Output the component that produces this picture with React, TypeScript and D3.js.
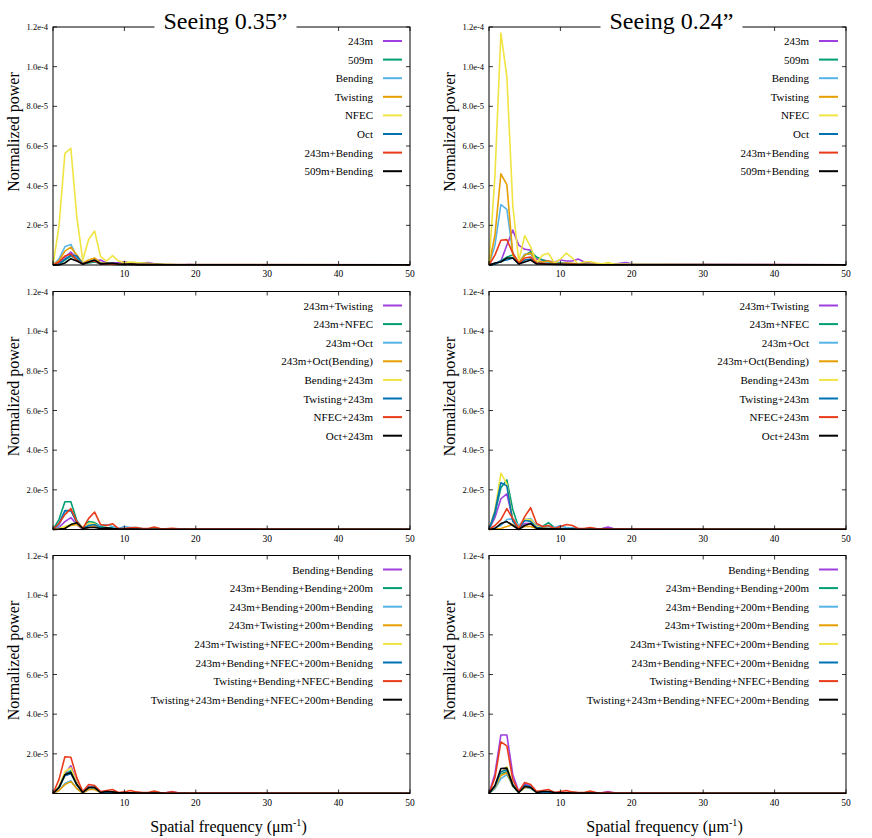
import React from 'react';
import * as d3 from 'd3';

// x samples (spatial frequency), step 5/6, with a last point at the axis end
const freq = [...d3.range(25).map(i => (i * 5) / 6), 50];

const xTicks = [0, 10, 20, 30, 40, 50];
const xTickLabels = ['', '10', '20', '30', '40', '50'];
const yTicks = [0, 2, 4, 6, 8, 10, 12];
const yTickLabels = ['', '2.0e-5', '4.0e-5', '6.0e-5', '8.0e-5', '1.0e-4', '1.2e-4'];

const colors = ['#9f3fe0', '#009e73', '#56b4e9', '#e69f00', '#f0e442', '#0072b2', '#ea3a1a', '#000000'];
const titles = ['Seeing 0.35\u201D', 'Seeing 0.24\u201D'];

const names1 = ['243m', '509m', 'Bending', 'Twisting', 'NFEC', 'Oct', '243m+Bending', '509m+Bending'];
const names2 = ['243m+Twisting', '243m+NFEC', '243m+Oct', '243m+Oct(Bending)', 'Bending+243m', 'Twisting+243m', 'NFEC+243m', 'Oct+243m'];
const names3 = [
    'Bending+Bending',
    '243m+Bending+Bending+200m',
    '243m+Bending+200m+Bending',
    '243m+Twisting+200m+Bending',
    '243m+Twisting+NFEC+200m+Bending',
    '243m+Bending+NFEC+200m+Benidng',
    'Twisting+Bending+NFEC+Bending',
    'Twisting+243m+Bending+NFEC+200m+Bending',
];

// values in units of 1e-5
// row 1, seeing 0.35"
const a243m = [0, 0.1, 0.4, 0.65, 0.35, 0.05, 0.15, 0.2, 0.25, 0.1, 0.08, 0.12, 0.17, 0.08, 0.05, 0.1, 0.12, 0.06, 0.04, 0.03, 0.03, 0.02, 0.02, 0.03, 0.02, 0.01];
const a509m = [0, 0.05, 0.25, 0.45, 0.3, 0.05, 0.1, 0.15, 0.08, 0.05, 0.04, 0.03, 0.03, 0.03, 0.02, 0.02, 0.02, 0.02, 0.01, 0.01, 0.01, 0.01, 0.01, 0.01, 0.01, 0.01];
const aBending = [0, 0.3, 0.92, 1.04, 0.4, 0.08, 0.2, 0.25, 0.1, 0.08, 0.06, 0.05, 0.05, 0.04, 0.03, 0.03, 0.02, 0.02, 0.02, 0.02, 0.01, 0.01, 0.01, 0.01, 0.01, 0.01];
const aTwisting = [0, 0.2, 0.7, 0.9, 0.5, 0.1, 0.25, 0.35, 0.12, 0.08, 0.05, 0.04, 0.04, 0.03, 0.03, 0.02, 0.02, 0.02, 0.02, 0.02, 0.01, 0.01, 0.01, 0.01, 0.01, 0.01];
const aNFEC = [0, 1.93, 5.63, 5.88, 2.43, 0.25, 1.3, 1.71, 0.42, 0.2, 0.47, 0.2, 0.12, 0.15, 0.12, 0.1, 0.08, 0.05, 0.04, 0.03, 0.03, 0.02, 0.02, 0.02, 0.02, 0.01];
const aOct = [0, 0.05, 0.3, 0.5, 0.45, 0.05, 0.15, 0.2, 0.08, 0.05, 0.04, 0.03, 0.03, 0.02, 0.02, 0.02, 0.02, 0.01, 0.01, 0.01, 0.01, 0.01, 0.01, 0.01, 0.01, 0.01];
const a243mBending = [0, 0.15, 0.45, 0.55, 0.25, 0.05, 0.15, 0.2, 0.05, 0.05, 0.04, 0.03, 0.03, 0.03, 0.02, 0.02, 0.02, 0.02, 0.01, 0.01, 0.01, 0.01, 0.01, 0.01, 0.01, 0.01];
const a509mBending = [0, 0, 0.1, 0.32, 0.2, 0.05, 0.15, 0.25, 0.05, 0.08, 0.1, 0.05, 0.03, 0.05, 0.03, 0.02, 0.02, 0.02, 0.02, 0.01, 0.01, 0.01, 0.01, 0.01, 0.01, 0.01];

// row 1, seeing 0.24"
const b243m = [0, 0.05, 0.2, 1.0, 1.76, 1.0, 0.79, 0.75, 0.3, 0.25, 0.2, 0.15, 0.25, 0.2, 0.2, 0.3, 0.15, 0.1, 0.05, 0.05, 0.05, 0.05, 0.08, 0.12, 0.06, 0.01];
const b509m = [0, 0.05, 0.2, 0.4, 0.5, 0.1, 0.5, 0.67, 0.4, 0.25, 0.15, 0.1, 0.1, 0.08, 0.06, 0.05, 0.05, 0.04, 0.04, 0.03, 0.03, 0.02, 0.02, 0.02, 0.02, 0.01];
const bBending = [0, 1.0, 3.05, 2.8, 0.6, 0.1, 0.55, 0.55, 0.15, 0.1, 0.1, 0.06, 0.05, 0.05, 0.04, 0.03, 0.03, 0.03, 0.02, 0.02, 0.02, 0.02, 0.01, 0.01, 0.01, 0.01];
const bTwisting = [0, 1.5, 4.6, 4.05, 0.5, 0.1, 0.5, 0.6, 0.2, 0.15, 0.2, 0.08, 0.06, 0.1, 0.08, 0.05, 0.05, 0.04, 0.03, 0.03, 0.02, 0.02, 0.02, 0.02, 0.01, 0.01];
const bNFEC = [0, 4.5, 11.7, 9.5, 3.0, 0.2, 1.48, 0.92, 0.1, 0.5, 0.59, 0.1, 0.3, 0.6, 0.35, 0.05, 0.15, 0.18, 0.1, 0.05, 0.12, 0.05, 0.04, 0.03, 0.03, 0.01];
const bOct = [0, 0.05, 0.2, 0.25, 0.35, 0.05, 0.25, 0.3, 0.1, 0.06, 0.05, 0.04, 0.03, 0.03, 0.02, 0.02, 0.02, 0.02, 0.01, 0.01, 0.01, 0.01, 0.01, 0.01, 0.01, 0.01];
const b243mBending = [0, 0.5, 1.25, 1.28, 0.6, 0.1, 0.35, 0.4, 0.1, 0.08, 0.05, 0.04, 0.04, 0.03, 0.03, 0.02, 0.02, 0.02, 0.02, 0.01, 0.01, 0.01, 0.01, 0.01, 0.01, 0.01];
const b509mBending = [0, 0.1, 0.15, 0.35, 0.35, 0.05, 0.15, 0.25, 0.05, 0.05, 0.04, 0.03, 0.03, 0.02, 0.02, 0.02, 0.02, 0.01, 0.01, 0.01, 0.01, 0.01, 0.01, 0.01, 0.01, 0.01];

// row 2, seeing 0.35"
const c243mTwisting = [0, 0.1, 0.4, 0.6, 0.25, 0, 0.1, 0.15, 0.05, 0.04, 0.03, 0.03, 0.02, 0.02, 0.02, 0.02, 0.01, 0.01, 0.01, 0.01, 0.01, 0.01, 0.01, 0.01, 0.01, 0.01];
const c243mNFEC = [0, 0.5, 1.4, 1.4, 0.45, 0.05, 0.4, 0.35, 0.15, 0.1, 0.08, 0.05, 0.04, 0.04, 0.03, 0.03, 0.02, 0.02, 0.02, 0.02, 0.01, 0.01, 0.01, 0.01, 0.01, 0.01];
const c243mOct = [0, 0.2, 0.9, 0.95, 0.4, 0.1, 0.3, 0.25, 0.2, 0.25, 0.15, 0.05, 0.15, 0.1, 0.1, 0.05, 0.04, 0.03, 0.03, 0.02, 0.02, 0.02, 0.01, 0.01, 0.01, 0.01];
const c243mOctBending = [0, 0.02, 0.1, 0.2, 0.25, 0.05, 0.1, 0.2, 0.05, 0.04, 0.03, 0.02, 0.02, 0.02, 0.01, 0.01, 0.01, 0.01, 0.01, 0.01, 0.01, 0.01, 0.01, 0.01, 0.01, 0.01];
const cBending243m = [0, 0.05, 0.15, 0.25, 0.35, 0.1, 0.3, 0.3, 0.05, 0.04, 0.03, 0.03, 0.02, 0.02, 0.02, 0.01, 0.01, 0.01, 0.01, 0.01, 0.01, 0.01, 0.01, 0.01, 0.01, 0.01];
const cTwisting243m = [0, 0.3, 0.95, 0.96, 0.35, 0.05, 0.2, 0.25, 0.08, 0.05, 0.04, 0.03, 0.03, 0.02, 0.02, 0.02, 0.01, 0.01, 0.01, 0.01, 0.01, 0.01, 0.01, 0.01, 0.01, 0.01];
const cNFEC243m = [0, 0.3, 0.75, 1.05, 0.4, 0.05, 0.56, 0.88, 0.25, 0.2, 0.29, 0.05, 0.05, 0.08, 0.1, 0.05, 0.05, 0.12, 0.05, 0.03, 0.06, 0.03, 0.02, 0.02, 0.02, 0.01];
const cOct243m = [0, 0.02, 0.05, 0.25, 0.34, 0.05, 0.1, 0.1, 0.05, 0.08, 0.05, 0.03, 0.02, 0.02, 0.02, 0.01, 0.01, 0.01, 0.01, 0.01, 0.01, 0.01, 0.01, 0.01, 0.01, 0.01];

// row 2, seeing 0.24"
const d243mTwisting = [0, 0.6, 1.55, 1.8, 0.5, 0.05, 0.3, 0.3, 0.1, 0.08, 0.05, 0.05, 0.05, 0.04, 0.04, 0.04, 0.04, 0.05, 0.04, 0.05, 0.12, 0.04, 0.03, 0.02, 0.02, 0.01];
const d243mNFEC = [0, 0.8, 2.1, 2.5, 1.0, 0.1, 0.5, 0.45, 0.2, 0.15, 0.35, 0.1, 0.05, 0.05, 0.04, 0.03, 0.03, 0.03, 0.02, 0.02, 0.02, 0.02, 0.01, 0.01, 0.01, 0.01];
const d243mOct = [0, 0.1, 0.2, 0.5, 0.55, 0.2, 0.5, 0.55, 0.2, 0.15, 0.15, 0.1, 0.2, 0.1, 0.08, 0.05, 0.04, 0.04, 0.03, 0.03, 0.02, 0.02, 0.02, 0.02, 0.01, 0.01];
const d243mOctBending = [0, 0.02, 0.05, 0.15, 0.25, 0.05, 0.15, 0.15, 0.05, 0.03, 0.02, 0.02, 0.02, 0.01, 0.01, 0.01, 0.01, 0.01, 0.01, 0.01, 0.01, 0.01, 0.01, 0.01, 0.01, 0.01];
const dBending243m = [0, 1.0, 2.84, 2.3, 0.5, 0.1, 0.5, 0.5, 0.15, 0.08, 0.06, 0.05, 0.04, 0.04, 0.03, 0.03, 0.02, 0.02, 0.02, 0.02, 0.01, 0.01, 0.01, 0.01, 0.01, 0.01];
const dTwisting243m = [0, 0.9, 2.36, 2.2, 0.4, 0.05, 0.45, 0.4, 0.1, 0.06, 0.05, 0.04, 0.04, 0.03, 0.03, 0.02, 0.02, 0.02, 0.02, 0.01, 0.01, 0.01, 0.01, 0.01, 0.01, 0.01];
const dNFEC243m = [0, 0.2, 0.5, 1.05, 0.55, 0.05, 0.65, 1.1, 0.3, 0.15, 0.2, 0.05, 0.15, 0.25, 0.2, 0.05, 0.05, 0.1, 0.05, 0.03, 0.03, 0.02, 0.04, 0.02, 0.02, 0.01];
const dOct243m = [0, 0.05, 0.3, 0.4, 0.2, 0, 0.2, 0.3, 0.05, 0.05, 0.04, 0.03, 0.02, 0.02, 0.02, 0.01, 0.01, 0.01, 0.01, 0.01, 0.01, 0.01, 0.01, 0.01, 0.01, 0.01];

// row 3, seeing 0.35"
const eBB = [0, 0.3, 1.0, 1.4, 0.6, 0.05, 0.35, 0.35, 0.05, 0.08, 0.06, 0.04, 0.04, 0.03, 0.03, 0.03, 0.03, 0.04, 0.03, 0.04, 0.1, 0.03, 0.02, 0.02, 0.02, 0.01];
const e243BB200 = [0, 0.3, 0.95, 1.15, 0.45, 0.05, 0.3, 0.3, 0.05, 0.06, 0.05, 0.04, 0.03, 0.03, 0.02, 0.02, 0.02, 0.02, 0.02, 0.01, 0.01, 0.01, 0.01, 0.01, 0.01, 0.01];
const e243B200B = [0, 0.15, 0.5, 0.65, 0.25, 0.02, 0.2, 0.25, 0.05, 0.04, 0.03, 0.03, 0.02, 0.02, 0.02, 0.01, 0.01, 0.01, 0.01, 0.01, 0.01, 0.01, 0.01, 0.01, 0.01, 0.01];
const e243T200B = [0, 0.15, 0.45, 0.6, 0.25, 0.02, 0.2, 0.2, 0.05, 0.04, 0.03, 0.03, 0.02, 0.02, 0.02, 0.01, 0.01, 0.01, 0.01, 0.01, 0.01, 0.01, 0.01, 0.01, 0.01, 0.01];
const e243TN200B = [0, 0.35, 1.1, 1.3, 0.55, 0.05, 0.3, 0.3, 0.05, 0.06, 0.05, 0.04, 0.03, 0.03, 0.02, 0.02, 0.02, 0.02, 0.02, 0.01, 0.01, 0.01, 0.01, 0.01, 0.01, 0.01];
const e243BN200B = [0, 0.3, 0.9, 1.0, 0.45, 0.05, 0.3, 0.3, 0.05, 0.06, 0.05, 0.04, 0.03, 0.03, 0.02, 0.02, 0.02, 0.02, 0.02, 0.01, 0.01, 0.01, 0.01, 0.01, 0.01, 0.01];
const eTBNB = [0, 0.7, 1.85, 1.83, 0.8, 0.1, 0.45, 0.4, 0.1, 0.15, 0.2, 0.05, 0.08, 0.15, 0.08, 0.05, 0.05, 0.12, 0.05, 0.03, 0.08, 0.03, 0.02, 0.02, 0.02, 0.01];
const eT243BN200B = [0, 0.3, 0.95, 1.06, 0.45, 0.05, 0.3, 0.3, 0.05, 0.1, 0.08, 0.04, 0.03, 0.03, 0.02, 0.02, 0.02, 0.02, 0.02, 0.01, 0.01, 0.01, 0.01, 0.01, 0.01, 0.01];

// row 3, seeing 0.24"
const fBB = [0, 1.0, 2.95, 2.95, 0.95, 0.1, 0.5, 0.35, 0.1, 0.1, 0.08, 0.05, 0.05, 0.05, 0.05, 0.04, 0.04, 0.04, 0.04, 0.04, 0.1, 0.04, 0.03, 0.02, 0.02, 0.01];
const f243BB200 = [0, 0.35, 1.0, 1.1, 0.35, 0.05, 0.35, 0.3, 0.05, 0.06, 0.05, 0.04, 0.03, 0.03, 0.02, 0.02, 0.02, 0.02, 0.02, 0.01, 0.01, 0.01, 0.01, 0.01, 0.01, 0.01];
const f243B200B = [0, 0.25, 0.75, 0.95, 0.4, 0.05, 0.3, 0.25, 0.05, 0.05, 0.04, 0.03, 0.03, 0.02, 0.02, 0.02, 0.01, 0.01, 0.01, 0.01, 0.01, 0.01, 0.01, 0.01, 0.01, 0.01];
const f243T200B = [0, 0.3, 0.9, 1.05, 0.4, 0.05, 0.3, 0.3, 0.05, 0.05, 0.04, 0.03, 0.03, 0.02, 0.02, 0.02, 0.01, 0.01, 0.01, 0.01, 0.01, 0.01, 0.01, 0.01, 0.01, 0.01];
const f243TN200B = [0, 0.35, 1.05, 1.35, 0.5, 0.05, 0.35, 0.3, 0.05, 0.06, 0.05, 0.04, 0.03, 0.03, 0.02, 0.02, 0.02, 0.02, 0.02, 0.01, 0.01, 0.01, 0.01, 0.01, 0.01, 0.01];
const f243BN200B = [0, 0.35, 1.1, 1.2, 0.45, 0.05, 0.4, 0.35, 0.05, 0.06, 0.05, 0.04, 0.03, 0.03, 0.02, 0.02, 0.02, 0.02, 0.02, 0.01, 0.01, 0.01, 0.01, 0.01, 0.01, 0.01];
const fTBNB = [0, 0.8, 2.6, 2.4, 0.7, 0.1, 0.56, 0.45, 0.1, 0.15, 0.2, 0.05, 0.1, 0.15, 0.08, 0.05, 0.05, 0.12, 0.05, 0.03, 0.06, 0.03, 0.02, 0.02, 0.02, 0.01];
const fT243BN200B = [0, 0.4, 1.26, 1.28, 0.4, 0.05, 0.35, 0.3, 0.05, 0.1, 0.1, 0.05, 0.03, 0.03, 0.02, 0.02, 0.02, 0.02, 0.02, 0.01, 0.01, 0.01, 0.01, 0.01, 0.01, 0.01];

const panels = [
    { row: 0, col: 0, names: names1, series: [a243m, a509m, aBending, aTwisting, aNFEC, aOct, a243mBending, a509mBending] },
    { row: 0, col: 1, names: names1, series: [b243m, b509m, bBending, bTwisting, bNFEC, bOct, b243mBending, b509mBending] },
    { row: 1, col: 0, names: names2, series: [c243mTwisting, c243mNFEC, c243mOct, c243mOctBending, cBending243m, cTwisting243m, cNFEC243m, cOct243m] },
    { row: 1, col: 1, names: names2, series: [d243mTwisting, d243mNFEC, d243mOct, d243mOctBending, dBending243m, dTwisting243m, dNFEC243m, dOct243m] },
    { row: 2, col: 0, names: names3, series: [eBB, e243BB200, e243B200B, e243T200B, e243TN200B, e243BN200B, eTBNB, eT243BN200B] },
    { row: 2, col: 1, names: names3, series: [fBB, f243BB200, f243B200B, f243T200B, f243TN200B, f243BN200B, fTBNB, fT243BN200B] },
];

const colLeft = [53, 489];
const plotW = 357;
const rowTop = [27, 291.5, 555.5];
const plotH = 238;
const titleShift = [-6, 4];
const serif = { fontFamily: "'Liberation Serif', 'DejaVu Serif', 'Times New Roman', serif" };

const Panel: React.FC<{ p: typeof panels[number] }> = ({ p }) => {
    const left = colLeft[p.col];
    const top = rowTop[p.row];
    const x = d3.scaleLinear().domain([0, 50]).range([left, left + plotW]);
    const y = d3.scaleLinear().domain([0, 12]).range([top + plotH, top]);
    const line = d3.line<number>()
        .x((_, i) => x(freq[i]))
        .y(d => y(d));
    const right = left + plotW;
    const bottom = top + plotH;
    const titleX = left + plotW / 2 + titleShift[p.col];

    return (
        <g>
            {/* series */}
            {p.series.map((s, i) => (
                <path key={i} d={line(s) ?? ''} fill="none" stroke={colors[i]} strokeWidth={1.6} strokeLinejoin="round" />
            ))}

            {/* frame */}
            <rect x={left} y={top} width={plotW} height={plotH} fill="none" stroke="#000" strokeWidth={1} />

            {/* ticks, inside on all sides */}
            {xTicks.map((t, i) => (
                <g key={'x' + t}>
                    <line x1={x(t)} x2={x(t)} y1={bottom} y2={bottom - 4} stroke="#000" strokeWidth={0.8} />
                    <line x1={x(t)} x2={x(t)} y1={top} y2={top + 4} stroke="#000" strokeWidth={0.8} />
                    <text x={x(t)} y={bottom + 12} fontSize={9.5} textAnchor="middle" style={serif}>{xTickLabels[i]}</text>
                </g>
            ))}
            {yTicks.map((t, i) => (
                <g key={'y' + t}>
                    <line x1={left} x2={left + 4} y1={y(t)} y2={y(t)} stroke="#000" strokeWidth={0.8} />
                    <line x1={right} x2={right - 4} y1={y(t)} y2={y(t)} stroke="#000" strokeWidth={0.8} />
                    <text x={left - 5} y={y(t) + 3} fontSize={8.5} textAnchor="end" style={serif}>{yTickLabels[i]}</text>
                </g>
            ))}

            {/* legend */}
            {p.names.map((n, i) => {
                const ly = top + 14 + i * 18.6;
                return (
                    <g key={n}>
                        <text x={right - 37} y={ly + 4} fontSize={11} textAnchor="end" style={serif}>{n}</text>
                        <line x1={right - 27} x2={right - 8} y1={ly} y2={ly} stroke={colors[i]} strokeWidth={2} />
                    </g>
                );
            })}

            {/* y label */}
            <text
                transform={`translate(${left - 34},${top + plotH / 2 - 14}) rotate(-90)`}
                fontSize={16}
                textAnchor="middle"
                style={serif}
            >
                Normalized power
            </text>

            {p.row === 0 && (
                <g>
                    <rect x={titleX - 71} y={top - 12} width={142} height={20} fill="#fff" />
                    <text x={titleX} y={top + 2} fontSize={24} textAnchor="middle" style={serif}>
                        {titles[p.col]}
                    </text>
                </g>
            )}

            {p.row === 2 && (
                <text x={left + plotW / 2 - 3} y={bottom + 38} fontSize={16} textAnchor="middle" style={serif}>
                    Spatial frequency (μm<tspan fontSize={10} dy={-6}>-1</tspan><tspan dy={6}>)</tspan>
                </text>
            )}
        </g>
    );
};

export default function App() {
    return (
        <svg
            width={872}
            height={838}
            style={{ position: 'absolute', left: 0, top: 0, background: '#fff' }}
        >
            <rect width={872} height={838} fill="#fff" />
            {panels.map((p, i) => (
                <Panel key={i} p={p} />
            ))}
        </svg>
    );
}
